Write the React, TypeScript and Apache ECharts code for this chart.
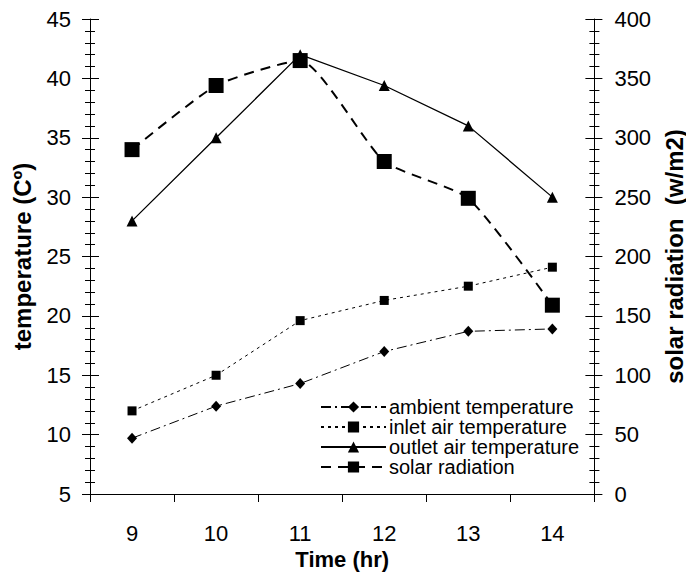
import React, { useEffect, useRef } from "react";
import * as echarts from "echarts";

const hours = ["9", "10", "11", "12", "13", "14"];
const ambientTemp = [9.7, 12.4, 14.3, 17.0, 18.7, 18.9];
const inletTemp = [12.0, 15.0, 19.6, 21.3, 22.5, 24.1];
const outletTemp = [28.0, 35.0, 42.0, 39.4, 36.0, 30.0];
const solarRadiation = [290, 344, 365, 280, 249, 159];

const FONT = "'Liberation Sans', Arial, sans-serif";
const BLACK = "#000";

export default function App() {
  const ref = useRef<HTMLDivElement>(null);
  useEffect(() => {
    if (!ref.current) return;
    const chart = echarts.init(ref.current, undefined, { renderer: "svg" });
    const hiddenAxisBase = {
      axisLine: { show: false },
      axisLabel: { show: false },
      splitLine: { show: false },
      axisTick: { show: true, inside: true, length: 9, lineStyle: { color: BLACK } },
      minorTick: { show: true, splitNumber: 5, length: 5, lineStyle: { color: BLACK } },
    };
    chart.setOption({
      animation: false,
      backgroundColor: "#fff",
      textStyle: { fontFamily: FONT, color: BLACK },
      grid: { left: 90, right: 90, top: 19, bottom: 85, containLabel: false },
      legend: {
        orient: "vertical",
        left: 320,
        top: 397,
        padding: 0,
        itemGap: 0,
        itemWidth: 65,
        itemHeight: 14,
        textStyle: { fontSize: 20, color: BLACK, fontFamily: FONT, lineHeight: 20, padding: [0, 0, 0, -2] },
        data: ["ambient temperature", "inlet air temperature", "outlet air temperature", "solar radiation"],
      },
      xAxis: {
        type: "category",
        data: hours,
        boundaryGap: true,
        name: "Time (hr)",
        nameLocation: "middle",
        nameGap: 43,
        nameTextStyle: { fontSize: 22, fontWeight: "bold", color: BLACK, fontFamily: FONT },
        axisLine: { lineStyle: { color: BLACK, width: 1 } },
        axisTick: { show: true, length: 8, lineStyle: { color: BLACK } },
        axisLabel: { fontSize: 22, color: BLACK, margin: 28, fontFamily: FONT },
        splitLine: { show: false },
      },
      yAxis: [
        {
          type: "value",
          position: "left",
          min: 5,
          max: 45,
          interval: 5,
          name: "temperature (Cº)",
          nameLocation: "middle",
          nameGap: 56,
          nameRotate: 90,
          nameTextStyle: { fontSize: 24, fontWeight: "bold", color: BLACK, fontFamily: FONT },
          axisLine: { show: true, lineStyle: { color: BLACK, width: 1 } },
          axisTick: { show: true, length: 8, lineStyle: { color: BLACK } },
          minorTick: { show: true, splitNumber: 5, length: 5, lineStyle: { color: BLACK } },
          axisLabel: { fontSize: 22, color: BLACK, margin: 19, fontFamily: FONT },
          splitLine: { show: false },
        },
        {
          type: "value",
          position: "right",
          min: 0,
          max: 400,
          interval: 50,
          name: "solar radiation  (w/m2)",
          nameLocation: "middle",
          nameGap: 65,
          nameRotate: 90,
          nameTextStyle: { fontSize: 24, fontWeight: "bold", color: BLACK, fontFamily: FONT },
          axisLine: { show: true, lineStyle: { color: BLACK, width: 1 } },
          axisTick: { show: true, length: 8, lineStyle: { color: BLACK } },
          minorTick: { show: true, splitNumber: 5, length: 5, lineStyle: { color: BLACK } },
          axisLabel: { fontSize: 22, color: BLACK, margin: 20, fontFamily: FONT },
          splitLine: { show: false },
        },
        { type: "value", position: "left", min: 5, max: 45, interval: 5, ...hiddenAxisBase },
        { type: "value", position: "right", min: 0, max: 400, interval: 50, ...hiddenAxisBase },
      ],
      series: [
        {
          name: "ambient temperature",
          type: "line",
          yAxisIndex: 0,
          data: ambientTemp,
          symbol: "diamond",
          symbolSize: [10, 11],
          itemStyle: { color: BLACK },
          lineStyle: { color: BLACK, width: 1, type: [10, 4, 2, 4] },
        },
        {
          name: "inlet air temperature",
          type: "line",
          yAxisIndex: 0,
          data: inletTemp,
          symbol: "rect",
          symbolSize: 9,
          itemStyle: { color: BLACK },
          lineStyle: { color: BLACK, width: 1, type: [3, 4] },
        },
        {
          name: "outlet air temperature",
          type: "line",
          yAxisIndex: 0,
          data: outletTemp,
          symbol: "triangle",
          symbolSize: 11,
          itemStyle: { color: BLACK },
          lineStyle: { color: BLACK, width: 1.3, type: "solid" },
        },
        {
          name: "solar radiation",
          type: "line",
          yAxisIndex: 1,
          data: solarRadiation,
          symbol: "rect",
          symbolSize: 15,
          smooth: 0.18,
          itemStyle: { color: BLACK },
          lineStyle: { color: BLACK, width: 2, type: [10, 7] },
        },
      ],
    });
    return () => chart.dispose();
  }, []);
  return <div ref={ref} style={{ width: 694, height: 579, marginLeft: -8, marginTop: -8 }} />;
}
